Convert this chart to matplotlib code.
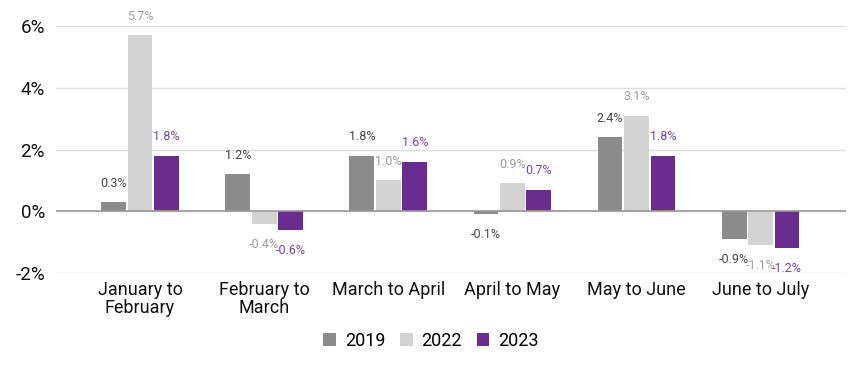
import matplotlib
matplotlib.use("Agg")
import matplotlib.pyplot as plt
import numpy as np

categories = ["January to\nFebruary", "February to\nMarch", "March to April",
              "April to May", "May to June", "June to July"]
series_names = ["2019", "2022", "2023"]
v2019 = [0.3, 1.2, 1.8, -0.1, 2.4, -0.9]
v2022 = [5.7, -0.4, 1.0, 0.9, 3.1, -1.1]
v2023 = [1.8, -0.6, 1.6, 0.7, 1.8, -1.2]
yticks = [-2, 0, 2, 4, 6]

bar_colors = ["#8c8c8c", "#d3d3d3", "#6a2c91"]
label_colors = ["#444444", "#9a9a9a", "#7b3fab"]

plt.rcParams['font.family'] = ['Roboto', 'DejaVu Sans']

fig = plt.figure(figsize=(8.62, 3.66), dpi=100)
ax = fig.add_axes([0.065, 0.254, 0.916, 0.675])

x = np.arange(len(categories))
bw = 0.2
step = 0.213
for i, (vals, name) in enumerate(zip([v2019, v2022, v2023], series_names)):
    pos = x + (i - 1) * step
    ax.bar(pos, vals, width=bw, color=bar_colors[i], label=name, zorder=3)
    for px, v in zip(pos, vals):
        off = 9 if v >= 0 else -10
        ax.annotate(f"{v:.1f}%", (px, v), xytext=(0, off), textcoords="offset points",
                    ha="center", va="bottom" if v >= 0 else "top",
                    fontsize=9, color=label_colors[i])

ax.set_xlim(-0.677, len(categories) - 0.5 + 0.185)
ax.set_ylim(-2, 6)
ax.set_yticks(yticks)
ax.set_yticklabels([f"{t}%" for t in yticks], fontsize=13.5, color="#111111")
ax.set_xticks(x)
ax.set_xticklabels(categories, fontsize=13, color="#111111", linespacing=1.0)
ax.tick_params(axis="both", length=0)
ax.tick_params(axis="x", pad=6)
ax.tick_params(axis="y", pad=8)
ax.grid(axis="y", color="#dddddd", linewidth=1, zorder=0)
ax.axhline(0, color="#999999", linewidth=1.2, zorder=4)
for s in ax.spines.values():
    s.set_visible(False)

fig.legend(loc="lower center", bbox_to_anchor=(0.5, 0.0), ncol=3, frameon=False,
           fontsize=13, handlelength=0.7, handleheight=0.7, handletextpad=0.5,
           columnspacing=0.8)

fig.savefig("out.png", dpi=100)
